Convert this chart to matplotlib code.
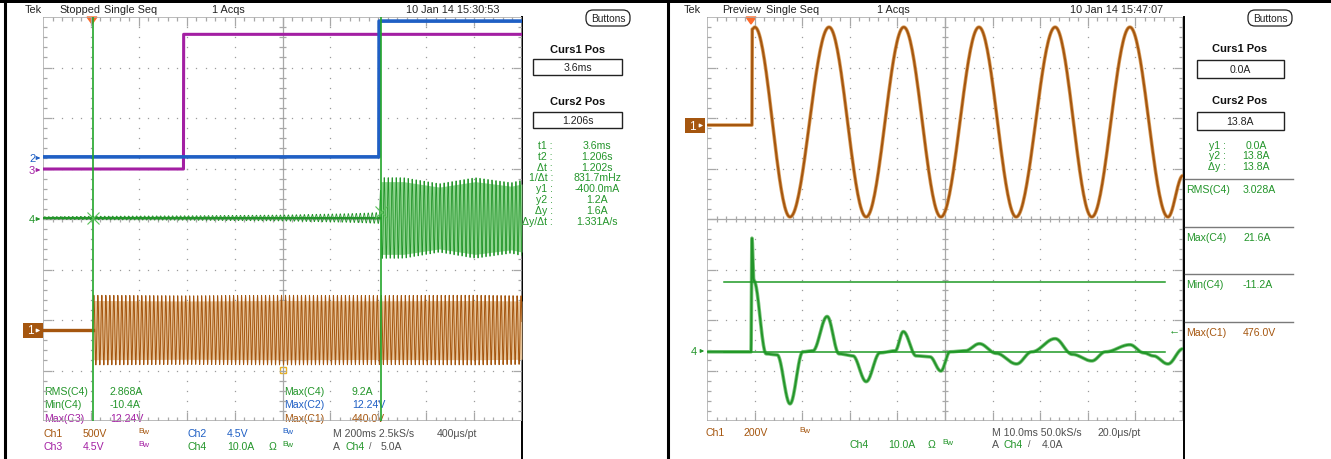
import numpy as np
import matplotlib
matplotlib.use("Agg")
import matplotlib.pyplot as plt
from matplotlib.patches import Rectangle, FancyBboxPatch, Polygon
from matplotlib.collections import LineCollection

W, H = 1331, 460
plt.rcParams['font.family'] = ['Liberation Sans', 'DejaVu Sans']

BROWN = '#a5560f'
BLUE = '#1f5fc4'
MAGENTA = '#a31fa3'
GREEN = '#23952a'
GRAY = '#a8a8a8'
TXT = '#3a3a3a'

# ---------------- left capture (200 ms/div, 2.5 kS/s) ----------------
left_header = ["Tek", "Stopped", "Single Seq", "1 Acqs", "10 Jan 14 15:30:53"]
left_curs = ["3.6ms", "1.206s"]
left_read_labels = ["t1 :", "t2 :", "\u0394t :", "1/\u0394t :", "y1 :", "y2 :", "\u0394y :", "\u0394y/\u0394t :"]
left_read_values = ["3.6ms", "1.206s", "1.202s", "831.7mHz", "-400.0mA", "1.2A", "1.6A", "1.331A/s"]
left_meas_a = [("RMS(C4)", "2.868A", GREEN), ("Min(C4)", "-10.4A", GREEN), ("Max(C3)", "12.24V", MAGENTA)]
left_meas_b = [("Max(C4)", "9.2A", GREEN), ("Max(C2)", "12.24V", BLUE), ("Max(C1)", "440.0V", BROWN)]

left_tlim = (-0.2046, 1.795)          # s
left_cursor_t = [0.0036, 1.206]       # s
# ch1: line voltage, 500 V/div
ch1_pos, ch1_scale = -2.2, 500.0
ch1_on_t, ch1_freq = 0.0036, 60.0
ch1_env_t = [0.0036, 0.4, 0.8, 1.2, 1.6, 1.8]
ch1_env_v = [345, 340, 345, 342, 345, 340]
# ch2 / ch3 : logic steps, 4.5 V/div
ch2_pos, ch2_step_t, ch2_levels = 1.23, 1.198, [0.0, 12.1]
ch3_pos, ch3_step_t, ch3_levels = 0.99, 0.382, [0.0, 12.0]
# ch4: current, 10 A/div
ch4_pos, ch4_scale = 0.02, 10.0
ch4_env_t = [-0.2046, 0.0, 0.4, 0.8, 1.1, 1.2, 1.206, 1.3, 1.45, 1.6, 1.75, 1.795]
ch4_env_a = [0.25, 0.35, 0.45, 0.6, 0.9, 1.1, 8.0, 8.0, 6.8, 8.0, 7.0, 7.5]

# ---------------- right capture (10 ms/div, 50 kS/s) ----------------
right_header = ["Tek", "Preview", "Single Seq", "1 Acqs", "10 Jan 14 15:47:07"]
right_curs = ["0.0A", "13.8A"]
right_read_labels = ["y1 :", "y2 :", "\u0394y :"]
right_read_values = ["0.0A", "13.8A", "13.8A"]
right_meas = [("RMS(C4)", "3.028A", GREEN), ("Max(C4)", "21.6A", GREEN),
              ("Min(C4)", "-11.2A", GREEN), ("Max(C1)", "476.0V", BROWN)]
right_tlim = (-9.24, 90.76)           # ms
r_ch1_pos, r_ch1_scale = 1.86, 200.0
r_ch1_t = [-9.24, 0.2, 0.25, 0.8, 8.2, 16.4, 24.2, 32.1, 39.9, 47.9, 55.7, 63.9, 71.6, 79.6, 87.6, 90.76]
r_ch1_v = [0, 0, 380, 388, -364, 388, -364, 388, -364, 388, -364, 388, -364, 388, -364, -200]
r_ch4_pos, r_ch4_scale = -2.63, 10.0
r_ch4_t = [-9.24, 0.0, 0.2, 0.6, 3.2, 5.5, 8.2, 10.9, 13.0, 16.0, 18.5, 21.4, 24.2, 27.1,
           30.3, 32.0, 34.7, 37.6, 39.9, 41.8, 45.0, 48.0, 51.5, 55.8, 59.0, 63.9, 67.5,
           71.6, 74.5, 79.6, 82.5, 84.5, 87.6, 90.76]
r_ch4_a = [0.0, 0.0, 22.5, 14.1, -0.4, -0.6, -10.3, 0.0, 0.2, 7.0, -0.4, -0.8, -5.9, -0.2,
           0.2, 4.0, -0.8, -1.0, -3.8, 0.0, 0.2, 1.6, -0.3, -2.4, 0.0, 2.6, -0.5,
           -1.8, 0.0, 1.4, -0.2, -0.8, -2.4, 0.6]
r_cursor_a = [0.0, 13.8]


def cos_path(ts, vs, n=40):
    """half-cosine easing between consecutive read-off vertices"""
    xx, yy = [], []
    for i in range(len(ts) - 1):
        s = np.linspace(0, 1, n, endpoint=False)
        e = (1 - np.cos(np.pi * s)) / 2
        xx.append(ts[i] + (ts[i + 1] - ts[i]) * s)
        yy.append(vs[i] + (vs[i + 1] - vs[i]) * e)
    xx.append([ts[-1]]); yy.append([vs[-1]])
    return np.concatenate(xx), np.concatenate(yy)


fig = plt.figure(figsize=(W / 100, H / 100), dpi=100)
bg = fig.add_axes([0, 0, 1, 1])
bg.set_xlim(0, W); bg.set_ylim(H, 0); bg.axis('off')


def px_axes(x0, y0, x1, y1):
    ax = fig.add_axes([x0 / W, 1 - y1 / H, (x1 - x0) / W, (y1 - y0) / H])
    ax.patch.set_alpha(0)
    ax.axis('off')
    ax.set_ylim(-4, 4)
    return ax


def graticule(ax, wpx, hpx):
    tr = ax.transAxes
    segs = []
    tx, ty = 4.0 / wpx, 4.0 / hpx
    for i in range(1, 50):
        x = i / 50
        L = 2.2 if i % 5 == 0 else 1.0
        segs += [[(x, 1), (x, 1 - ty * L)], [(x, 0), (x, ty * L)]]
        segs += [[(x, 0.5 - ty * 0.8), (x, 0.5 + ty * 0.8)]]
    for j in range(1, 40):
        y = j / 40
        L = 2.2 if j % 5 == 0 else 1.0
        segs += [[(0, y), (tx * L, y)], [(1, y), (1 - tx * L, y)]]
        segs += [[(0.5 - tx * 0.8, y), (0.5 + tx * 0.8, y)]]
    segs += [[(0, 0.5), (1, 0.5)], [(0.5, 0), (0.5, 1)]]
    ax.add_collection(LineCollection(segs, colors=GRAY, linewidths=0.9, transform=tr, zorder=1))
    ax.add_patch(Rectangle((0, 0), 1, 1, transform=tr, fill=False, ec=GRAY, lw=1.1, zorder=1))
    for i in range(1, 10):
        if i == 5:
            continue
        y = np.arange(1, 40) / 40
        ax.plot(np.full_like(y, i / 10), y, ls='none', marker='s', ms=0.9, mew=0, color='#9c9c9c',
                transform=tr, zorder=1)
    for j in range(1, 8):
        if j == 4:
            continue
        x = np.arange(1, 50) / 50
        ax.plot(x, np.full_like(x, j / 8), ls='none', marker='s', ms=0.9, mew=0, color='#9c9c9c',
                transform=tr, zorder=1)


def T(x, y, s, c=TXT, size=7.6, ha='left', **kw):
    bg.text(x, y, s, color=c, fontsize=size, ha=ha, va='center', **kw)


def bw(x, y, c):
    T(x, y - 2, "B", c, size=6)
    T(x + 4.5, y - 1, "w", c, size=6)


# ---------- frame ----------
bg.add_patch(Rectangle((0, 0), W, 3.5, color='black', lw=0))
for x in (5, 668):
    bg.plot([x, x], [0, H], color='black', lw=2.2)
for x in (522, 1184):
    bg.plot([x, x], [18, H], color='black', lw=1.4)

# ================= LEFT =================
axL = px_axes(43, 18, 522, 422)
axL.set_xlim(*left_tlim)
graticule(axL, 479, 404)

t = np.arange(left_tlim[0], left_tlim[1], 0.0004)
# ch3 magenta
v3 = np.where(t < ch3_step_t, ch3_levels[0], ch3_levels[1])
axL.plot(t, v3 / 4.5 + ch3_pos, color=MAGENTA, lw=2.2, zorder=4)
# ch2 blue
v2 = np.where(t < ch2_step_t, ch2_levels[0], ch2_levels[1])
axL.plot(t, v2 / 4.5 + ch2_pos, color=BLUE, lw=2.6, zorder=5)
# ch4 green
env4 = np.interp(t, ch4_env_t, ch4_env_a)
i4 = t >= left_cursor_t[1]
axL.fill_between(t[i4], (-env4[i4] * 0.9) / ch4_scale + ch4_pos, (env4[i4] * 0.9) / ch4_scale + ch4_pos,
                 color='#8fd48f', lw=0, zorder=3)
a4 = env4 * np.sin(2 * np.pi * 60.0 * t + 0.4)
axL.plot(t, a4 / ch4_scale + ch4_pos, color=GREEN, lw=0.6, zorder=4)
axL.plot(t[~i4], np.full((~i4).sum(), ch4_pos), color=GREEN, lw=1.6, zorder=4)
# ch1 brown
env1 = np.interp(t, ch1_env_t, ch1_env_v)
on = t >= ch1_on_t
v1 = np.where(on, env1 * np.sin(2 * np.pi * ch1_freq * (t - ch1_on_t)), 0.0)
axL.fill_between(t[on], -env1[on] * 0.85 / ch1_scale + ch1_pos, env1[on] * 0.85 / ch1_scale + ch1_pos,
                 color='#e6c49a', lw=0, zorder=3)
axL.plot(t, v1 / ch1_scale + ch1_pos, color=BROWN, lw=0.7, zorder=4)
axL.plot(t[~on], np.full((~on).sum(), ch1_pos), color=BROWN, lw=2.4, zorder=4)
# cursors
for tc in left_cursor_t:
    axL.axvline(tc, color='#22a52a', lw=1.2, zorder=6)
axL.plot([left_cursor_t[0]], [ch4_pos], marker='x', ms=9, mew=0.8, color='#59c059', zorder=7)
axL.plot([left_cursor_t[1]], [ch4_pos + 0.12], marker='x', ms=9, mew=0.8, color='#59c059', zorder=7)

# trigger marker
bg.add_patch(Polygon([[87, 18], [97, 18], [92, 25]], color='#ff6a2a', zorder=8))
bg.add_patch(Rectangle((280, 368), 6, 6, fill=False, ec='#e8b020', lw=1))

# channel markers
for n, y, c in (("2", 159, BLUE), ("3", 171, MAGENTA), ("4", 220, GREEN)):
    T(29, y, n, c, size=8)
    bg.annotate("", xy=(43, y), xytext=(35, y), arrowprops=dict(arrowstyle='-|>', color=c, lw=0.8,
                                                              mutation_scale=5))
bg.add_patch(Rectangle((23, 324), 20, 15, color=BROWN, lw=0))
T(27, 331.5, "1", 'white', size=8.5)
bg.annotate("", xy=(43, 331.5), xytext=(34, 331.5), arrowprops=dict(arrowstyle='-|>', color='white',
                                                                  lw=0.8, mutation_scale=5))
T(508, 193, "\u2190", GREEN, size=8)

# header
for s, x in zip(left_header, [25, 59, 104, 212, 406]):
    T(x, 10, s, '#222222', size=7.8)
bg.add_patch(FancyBboxPatch((586, 11), 44, 16, boxstyle="round,pad=0,rounding_size=7",
                            fill=False, ec='#222222', lw=0.9))
T(608, 19, "Buttons", '#222222', size=7.3, ha='center')

# cursor panel
for y, s, yb, v in ((50, "Curs1 Pos", 60, left_curs[0]), (102, "Curs2 Pos", 113, left_curs[1])):
    T(578, y, s, '#111111', size=8, ha='center', fontweight='bold')
    bg.add_patch(Rectangle((533, yb), 89, 16, fill=False, ec='#222222', lw=1.0))
    T(578, yb + 8, v, '#222222', size=7.6, ha='center')
for i, (lab, val) in enumerate(zip(left_read_labels, left_read_values)):
    y = 146 + 10.8 * i
    T(553, y, lab, GREEN, ha='right')
    T(597, y, val, GREEN, ha='center')

# measurements inside graticule
for i, (lab, val, c) in enumerate(left_meas_a):
    T(44, 392 + 13.5 * i, lab, c)
    T(110, 392 + 13.5 * i, val, c)
for i, (lab, val, c) in enumerate(left_meas_b):
    T(284, 392 + 13.5 * i, lab, c)
    T(352, 392 + 13.5 * i, val, c)

# channel settings
T(44, 434, "Ch1", BROWN); T(83, 434, "500V", BROWN); bw(138, 434, BROWN)
T(188, 434, "Ch2", BLUE); T(227, 434, "4.5V", BLUE); bw(282, 434, BLUE)
T(333, 434, "M 200ms 2.5kS/s", '#505050'); T(437, 434, "400\u03bcs/pt", '#505050')
T(44, 447, "Ch3", MAGENTA); T(83, 447, "4.5V", MAGENTA); bw(138, 447, MAGENTA)
T(188, 447, "Ch4", GREEN); T(227, 447, "10.0A", GREEN); T(269, 447, "\u03a9", GREEN); bw(282, 447, GREEN)
T(333, 447, "A", '#505050'); T(345, 447, "Ch4", GREEN); T(369, 447, "/", '#505050', size=6.5)
T(381, 447, "5.0A", '#505050')

# ================= RIGHT =================
axR = px_axes(707, 18, 1183, 422)
axR.set_xlim(*right_tlim)
graticule(axR, 476, 404)

x1, y1 = cos_path(r_ch1_t, r_ch1_v)
axR.plot(x1, np.array(y1) / r_ch1_scale + r_ch1_pos, color='#d9a060', lw=2.6, zorder=3)
axR.plot(x1, np.array(y1) / r_ch1_scale + r_ch1_pos, color=BROWN, lw=1.5, zorder=4)
x4, y4 = cos_path(r_ch4_t, r_ch4_a)
axR.plot(x4, np.array(y4) / r_ch4_scale + r_ch4_pos, color='#7cc47c', lw=2.6, zorder=3)
axR.plot(x4, np.array(y4) / r_ch4_scale + r_ch4_pos, color=GREEN, lw=1.4, zorder=4)
for a in r_cursor_a:
    axR.plot([-5.7, 87.0], [a / r_ch4_scale + r_ch4_pos] * 2, color='#1f9a26', lw=1.1, zorder=5)

bg.add_patch(Polygon([[746, 18], [756, 18], [751, 25]], color='#ff6a2a', zorder=8))
bg.add_patch(Rectangle((685, 119), 20, 15, color=BROWN, lw=0))
T(689, 126.5, "1", 'white', size=8.5)
bg.annotate("", xy=(706, 126.5), xytext=(697, 126.5), arrowprops=dict(arrowstyle='-|>', color='white',
                                                                    lw=0.8, mutation_scale=5))
T(691, 352, "4", GREEN, size=8)
bg.annotate("", xy=(707, 352), xytext=(698, 352), arrowprops=dict(arrowstyle='-|>', color=GREEN, lw=0.8,
                                                                mutation_scale=5))
T(1169, 330, "\u2190", GREEN, size=8)

for s, x in zip(right_header, [684, 722, 766, 877, 1070]):
    T(x, 10, s, '#222222', size=7.8)
bg.add_patch(FancyBboxPatch((1248, 11), 44, 16, boxstyle="round,pad=0,rounding_size=7",
                            fill=False, ec='#222222', lw=0.9))
T(1270, 19, "Buttons", '#222222', size=7.3, ha='center')

for y, s, yb, v in ((49, "Curs1 Pos", 61, right_curs[0]), (101, "Curs2 Pos", 113, right_curs[1])):
    T(1240, y, s, '#111111', size=8, ha='center', fontweight='bold')
    bg.add_patch(Rectangle((1197, yb), 87, 18, fill=False, ec='#222222', lw=1.0))
    T(1240, yb + 9, v, '#222222', ha='center')
for i, (lab, val) in enumerate(zip(right_read_labels, right_read_values)):
    y = 146 + 10.5 * i
    T(1226, y, lab, GREEN, ha='right')
    T(1256, y, val, GREEN, ha='center')
for i, (lab, val, c) in enumerate(right_meas):
    y0 = 180 + 47.7 * i
    bg.plot([1185, 1293], [y0, y0], color='#7a7a7a', lw=1.0)
    T(1186, y0 + 10, lab, c)
    T(1243, y0 + 10, val, c)

T(706, 433, "Ch1", BROWN); T(743, 433, "200V", BROWN); bw(799, 433, BROWN)
T(992, 433, "M 10.0ms 50.0kS/s", '#505050'); T(1097, 433, "20.0\u03bcs/pt", '#505050')
T(849, 445, "Ch4", GREEN); T(888, 445, "10.0A", GREEN); T(928, 445, "\u03a9", GREEN); bw(942, 445, GREEN)
T(992, 445, "A", '#505050'); T(1004, 445, "Ch4", GREEN); T(1028, 445, "/", '#505050', size=6.5)
T(1042, 445, "4.0A", '#505050')

fig.savefig("out.png", dpi=100)
